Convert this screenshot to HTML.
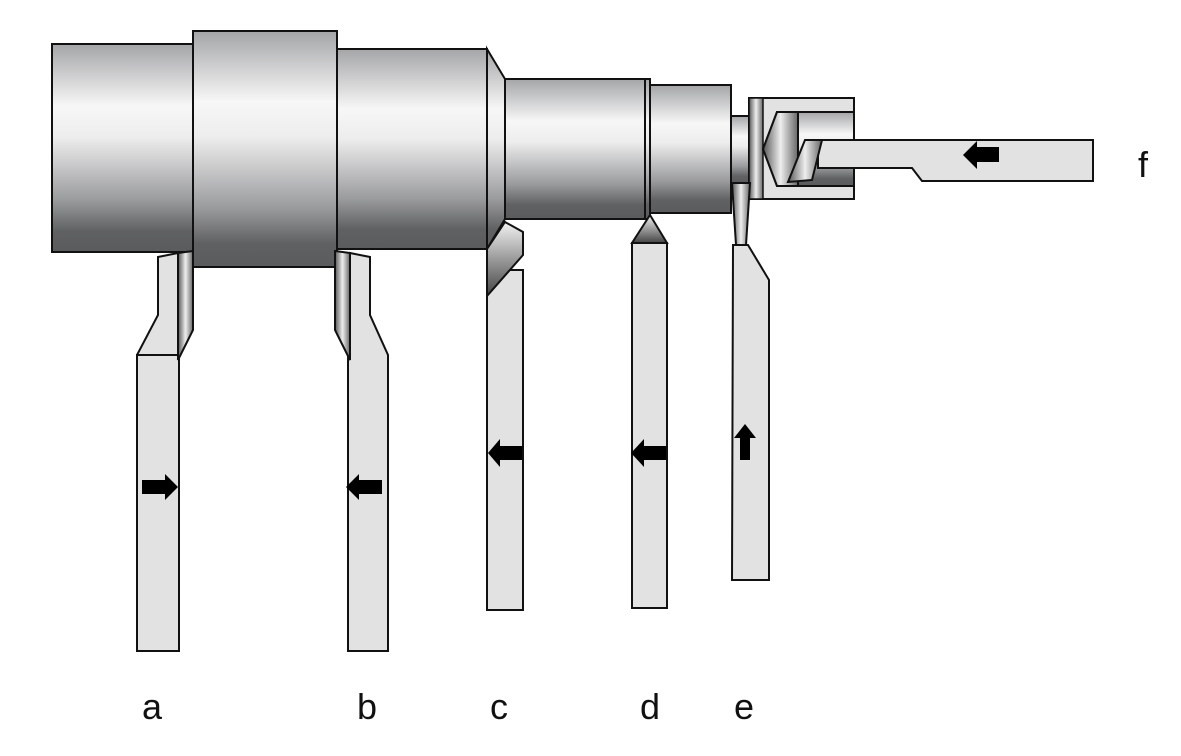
<!DOCTYPE html>
<html><head><meta charset="utf-8"><style>
html,body{margin:0;padding:0;background:#fff;}
svg{display:block}
text{font-family:"Liberation Sans",sans-serif;font-size:36px;fill:#111}
</style></head><body>
<svg width="1181" height="756" viewBox="0 0 1181 756" xmlns="http://www.w3.org/2000/svg">
<defs>
<linearGradient id="cyl" x1="0" y1="0" x2="0" y2="1">
<stop offset="0" stop-color="#a4a5a7"/>
<stop offset="0.3" stop-color="#f7f7f7"/>
<stop offset="0.45" stop-color="#ededed"/>
<stop offset="0.75" stop-color="#9a9b9d"/>
<stop offset="0.9" stop-color="#606163"/>
<stop offset="1" stop-color="#5a5b5d"/>
</linearGradient>
<linearGradient id="hx" x1="0" y1="0" x2="1" y2="0">
<stop offset="0" stop-color="#555"/>
<stop offset="0.5" stop-color="#eee"/>
<stop offset="1" stop-color="#666"/>
</linearGradient>
<linearGradient id="dk" x1="0" y1="0" x2="0" y2="1">
<stop offset="0" stop-color="#f2f2f2"/>
<stop offset="1" stop-color="#444"/>
</linearGradient>
</defs>
<g stroke="#111" stroke-width="2" stroke-linejoin="miter">
<rect x="52" y="44" width="141" height="208" fill="url(#cyl)"/>
<rect x="193" y="31" width="144" height="236" fill="url(#cyl)"/>
<rect x="337" y="49" width="150" height="200" fill="url(#cyl)"/>
<polygon points="487,49 505,79 505,219 487,249" fill="url(#cyl)"/>
<rect x="505" y="79" width="140" height="140" fill="url(#cyl)"/>
<rect x="645" y="79" width="5" height="140" fill="url(#cyl)"/>
<rect x="650" y="85" width="81" height="128" fill="url(#cyl)"/>
<rect x="731" y="116" width="18" height="67" fill="url(#cyl)"/>
<rect x="749" y="98" width="105" height="101" fill="#e2e2e2"/>
<rect x="749" y="98" width="14" height="101" fill="url(#hx)" stroke-width="1.5"/>
<polygon points="777,112 854,112 854,186 777,186 763,149" fill="url(#cyl)"/>
<polygon points="798,112 777,112 763,149 777,186 798,186" fill="url(#hx)"/>
<polygon points="818,140 1093,140 1093,181 922,181 912,168 818,168" fill="#e2e2e2"/>
<polygon points="805,140 822,140 812,180 788,182" fill="url(#hx)"/>
<polygon points="158,257 178,253 178,355 178,365 137,365 137,355 158,315" fill="#e2e2e2"/>
<rect x="137" y="355" width="42" height="296" fill="#e2e2e2"/>
<polygon points="178,253 193,251 193,330 178,360" fill="url(#hx)"/>
<polygon points="350,253 370,257 370,315 388,355 388,651 348,651 348,360" fill="#e2e2e2"/>
<polygon points="335,251 350,253 350,360 335,330" fill="url(#hx)"/>
<rect x="487" y="270" width="36" height="340" fill="#e2e2e2"/>
<polygon points="487,249 505,222 523,232 523,255 487,296" fill="url(#dk)"/>
<rect x="632" y="243" width="35" height="365" fill="#e2e2e2"/>
<polygon points="650,215 667,243 632,243" fill="url(#dk)"/>
<polygon points="733,245 748,245 769,280 769,580 732,580" fill="#e2e2e2"/>
<polygon points="732,183 750,183 746,245 736,245" fill="url(#hx)"/>
</g>
<g fill="#000">
<polygon points="142,480 165,480 165,474 178,487 165,500 165,494 142,494"/>
<polygon points="382,480 359,480 359,474 346,487 359,500 359,494 382,494"/>
<polygon points="522,446 500,446 500,439 488,453 500,467 500,460 522,460"/>
<polygon points="666,446 644,446 644,439 631,453 644,467 644,460 666,460"/>
<polygon points="740,460 740,438 734,438 745,424 756,438 750,438 750,460"/>
<polygon points="999,147 977,147 977,141 963,155 977,169 977,162 999,162"/>
</g>
<text x="142" y="719">a</text>
<text x="357" y="719">b</text>
<text x="490" y="719">c</text>
<text x="640" y="719">d</text>
<text x="734" y="719">e</text>
<text x="1138" y="177">f</text>
</svg>
</body></html>
